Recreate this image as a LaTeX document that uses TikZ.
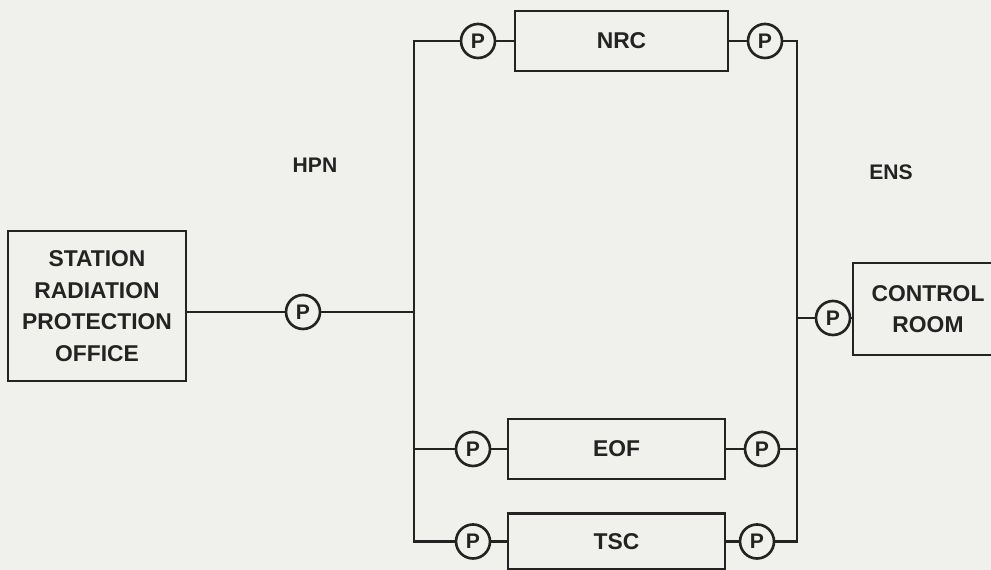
\documentclass[tikz,border=0pt]{standalone}
\usepackage{fontspec}
\setmainfont{Liberation Sans}
\usepackage{tikz}
\usetikzlibrary{positioning}
\definecolor{paper}{RGB}{240,240,237}
\definecolor{ink}{RGB}{35,35,35}

\begin{document}
\begin{tikzpicture}[
  box/.style={draw=ink, line width=1.6pt, inner sep=0pt, font=\fontsize{13}{18}\selectfont\bfseries, align=center, text=ink},
  pump/.style={draw=ink, circle, line width=1.5pt, minimum size=6.8mm, inner sep=0pt, font=\fontsize{12}{12}\selectfont\bfseries, text=ink},
  wire/.style={draw=ink, line width=1.5pt},
  lab/.style={font=\fontsize{12}{12}\selectfont\bfseries, text=ink}]
  \useasboundingbox[fill=paper] (0,0) rectangle (19.82,11.4);
  % ---------------- source office
  \node[box, minimum width=35.6mm, minimum height=30mm] (sta) at (1.94,5.28) {STATION\\RADIATION\\PROTECTION\\OFFICE};
  \node[pump] (p0) at (6.06,5.16) {P};
  \coordinate (hpn) at (8.28,5.16);
  \draw[wire] (sta.east |- p0) -- (p0) -- (hpn);
  \node[lab] (hpnlab) at (6.3,8.1) {HPN};
  % ---------------- branches
  \foreach \n/\t/\yy/\bx/\bw/\bh/\lx/\rx in {1/NRC/10.58/12.43/42.6/12/9.56/15.30,
      2/EOF/2.42/12.33/43.4/12/9.46/15.24, 3/TSC/0.57/12.33/43.4/11.2/9.46/15.14}{
    \node[pump] (l\n) at (\lx,\yy) {P};
    \node[box, minimum width=\bw mm, minimum height=\bh mm] (b\n) at (\bx,\yy) {\t};
    \node[pump] (r\n) at (\rx,\yy) {P};
    \draw[wire] (l\n) -- (b\n) -- (r\n);}
  % ---------------- buses
  \coordinate (ens) at (15.94,5.04);
  \draw[wire] (l1) -| (hpn) |- (l3);
  \draw[wire] (l2) -- (l2 -| hpn);
  \draw[wire] (r1) -| (ens) |- (r3);
  \draw[wire] (r2) -- (r2 -| ens);
  \node[lab] (enslab) at (17.82,7.96) {ENS};
  % ---------------- control room
  \node[pump] (pc) at (16.66,5.04) {P};
  \node[box, minimum width=30mm, minimum height=18.4mm] (ctrl) at (18.56,5.22) {CONTROL\\ROOM};
  \draw[wire] (ens) -- (pc) -- (pc -| ctrl.west);
\end{tikzpicture}
\end{document}
